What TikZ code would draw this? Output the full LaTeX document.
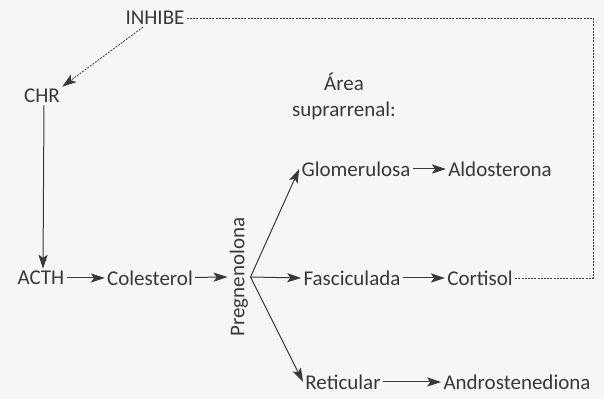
\documentclass[tikz,border=0pt]{standalone}
\usepackage{fontspec}
\setmainfont{Carlito}
\usetikzlibrary{arrows.meta}

\definecolor{ink}{HTML}{383838}
\definecolor{paper}{HTML}{F6F6F5}

\tikzset{
    punta/.tip={Stealth[length=7pt, width=4.6pt, inset=1.6pt]},
    hormona/.style={inner sep=1pt, text=ink, font=\fontsize{10.5}{12}\selectfont},
    paso/.style={-punta, draw=ink, line width=0.5pt},
    inhib/.style={draw=ink, line width=0.4pt, dash pattern=on 1pt off 0.6pt}
}

\begin{document}
\begin{tikzpicture}[x=0.5pt, y=-0.5pt]
            \fill[paper] (0, 0) rectangle (604, 399);

            % eje hipotalamo - hipofisis
            \node[hormona] (inhibe) at (155, 18) {INHIBE};
            \node[hormona] (chr) at (42, 96) {CHR};
            \node[hormona] (acth) at (41, 278) {ACTH};
            \node[hormona] (colesterol) at (150, 278) {Colesterol};
            \node[hormona, rotate=90] (pregnenolona) at (239, 277) {Pregnenolona};

            % zonas de la corteza
            \node[hormona, align=center] (area) at (344, 96) {Área\\[1pt]suprarrenal:};
            \node[hormona] (glomerulosa) at (356, 169) {Glomerulosa};
            \node[hormona] (aldosterona) at (500, 169) {Aldosterona};
            \node[hormona] (fasciculada) at (352, 278) {Fasciculada};
            \node[hormona] (cortisol) at (480, 278) {Cortisol};
            \node[hormona] (reticular) at (343, 382) {Reticular};
            \node[hormona] (androstenediona) at (517, 382) {Androstenediona};

            \draw[paso] (chr.south) ++(2, 0) -- ([xshift=1pt]acth.north);
            \draw[paso] (acth) -- (colesterol);
            \draw[paso] (colesterol) -- (pregnenolona.north);
            \draw[paso] (pregnenolona.south) -- (glomerulosa.west);
            \draw[paso] (pregnenolona.south) -- (fasciculada.west);
            \draw[paso] (pregnenolona.south) -- (reticular.west);
            \draw[paso] (glomerulosa) -- (aldosterona);
            \draw[paso] (fasciculada) -- (cortisol);
            \draw[paso] (reticular) -- (androstenediona);

            % retroalimentacion negativa
            \draw[inhib] (cortisol.east) -- ++(78, 0) |- (inhibe.east);
            \draw[inhib, -punta] ([xshift=-6pt]inhibe.south) -- (chr.north east);
        \end{tikzpicture}
\end{document}
